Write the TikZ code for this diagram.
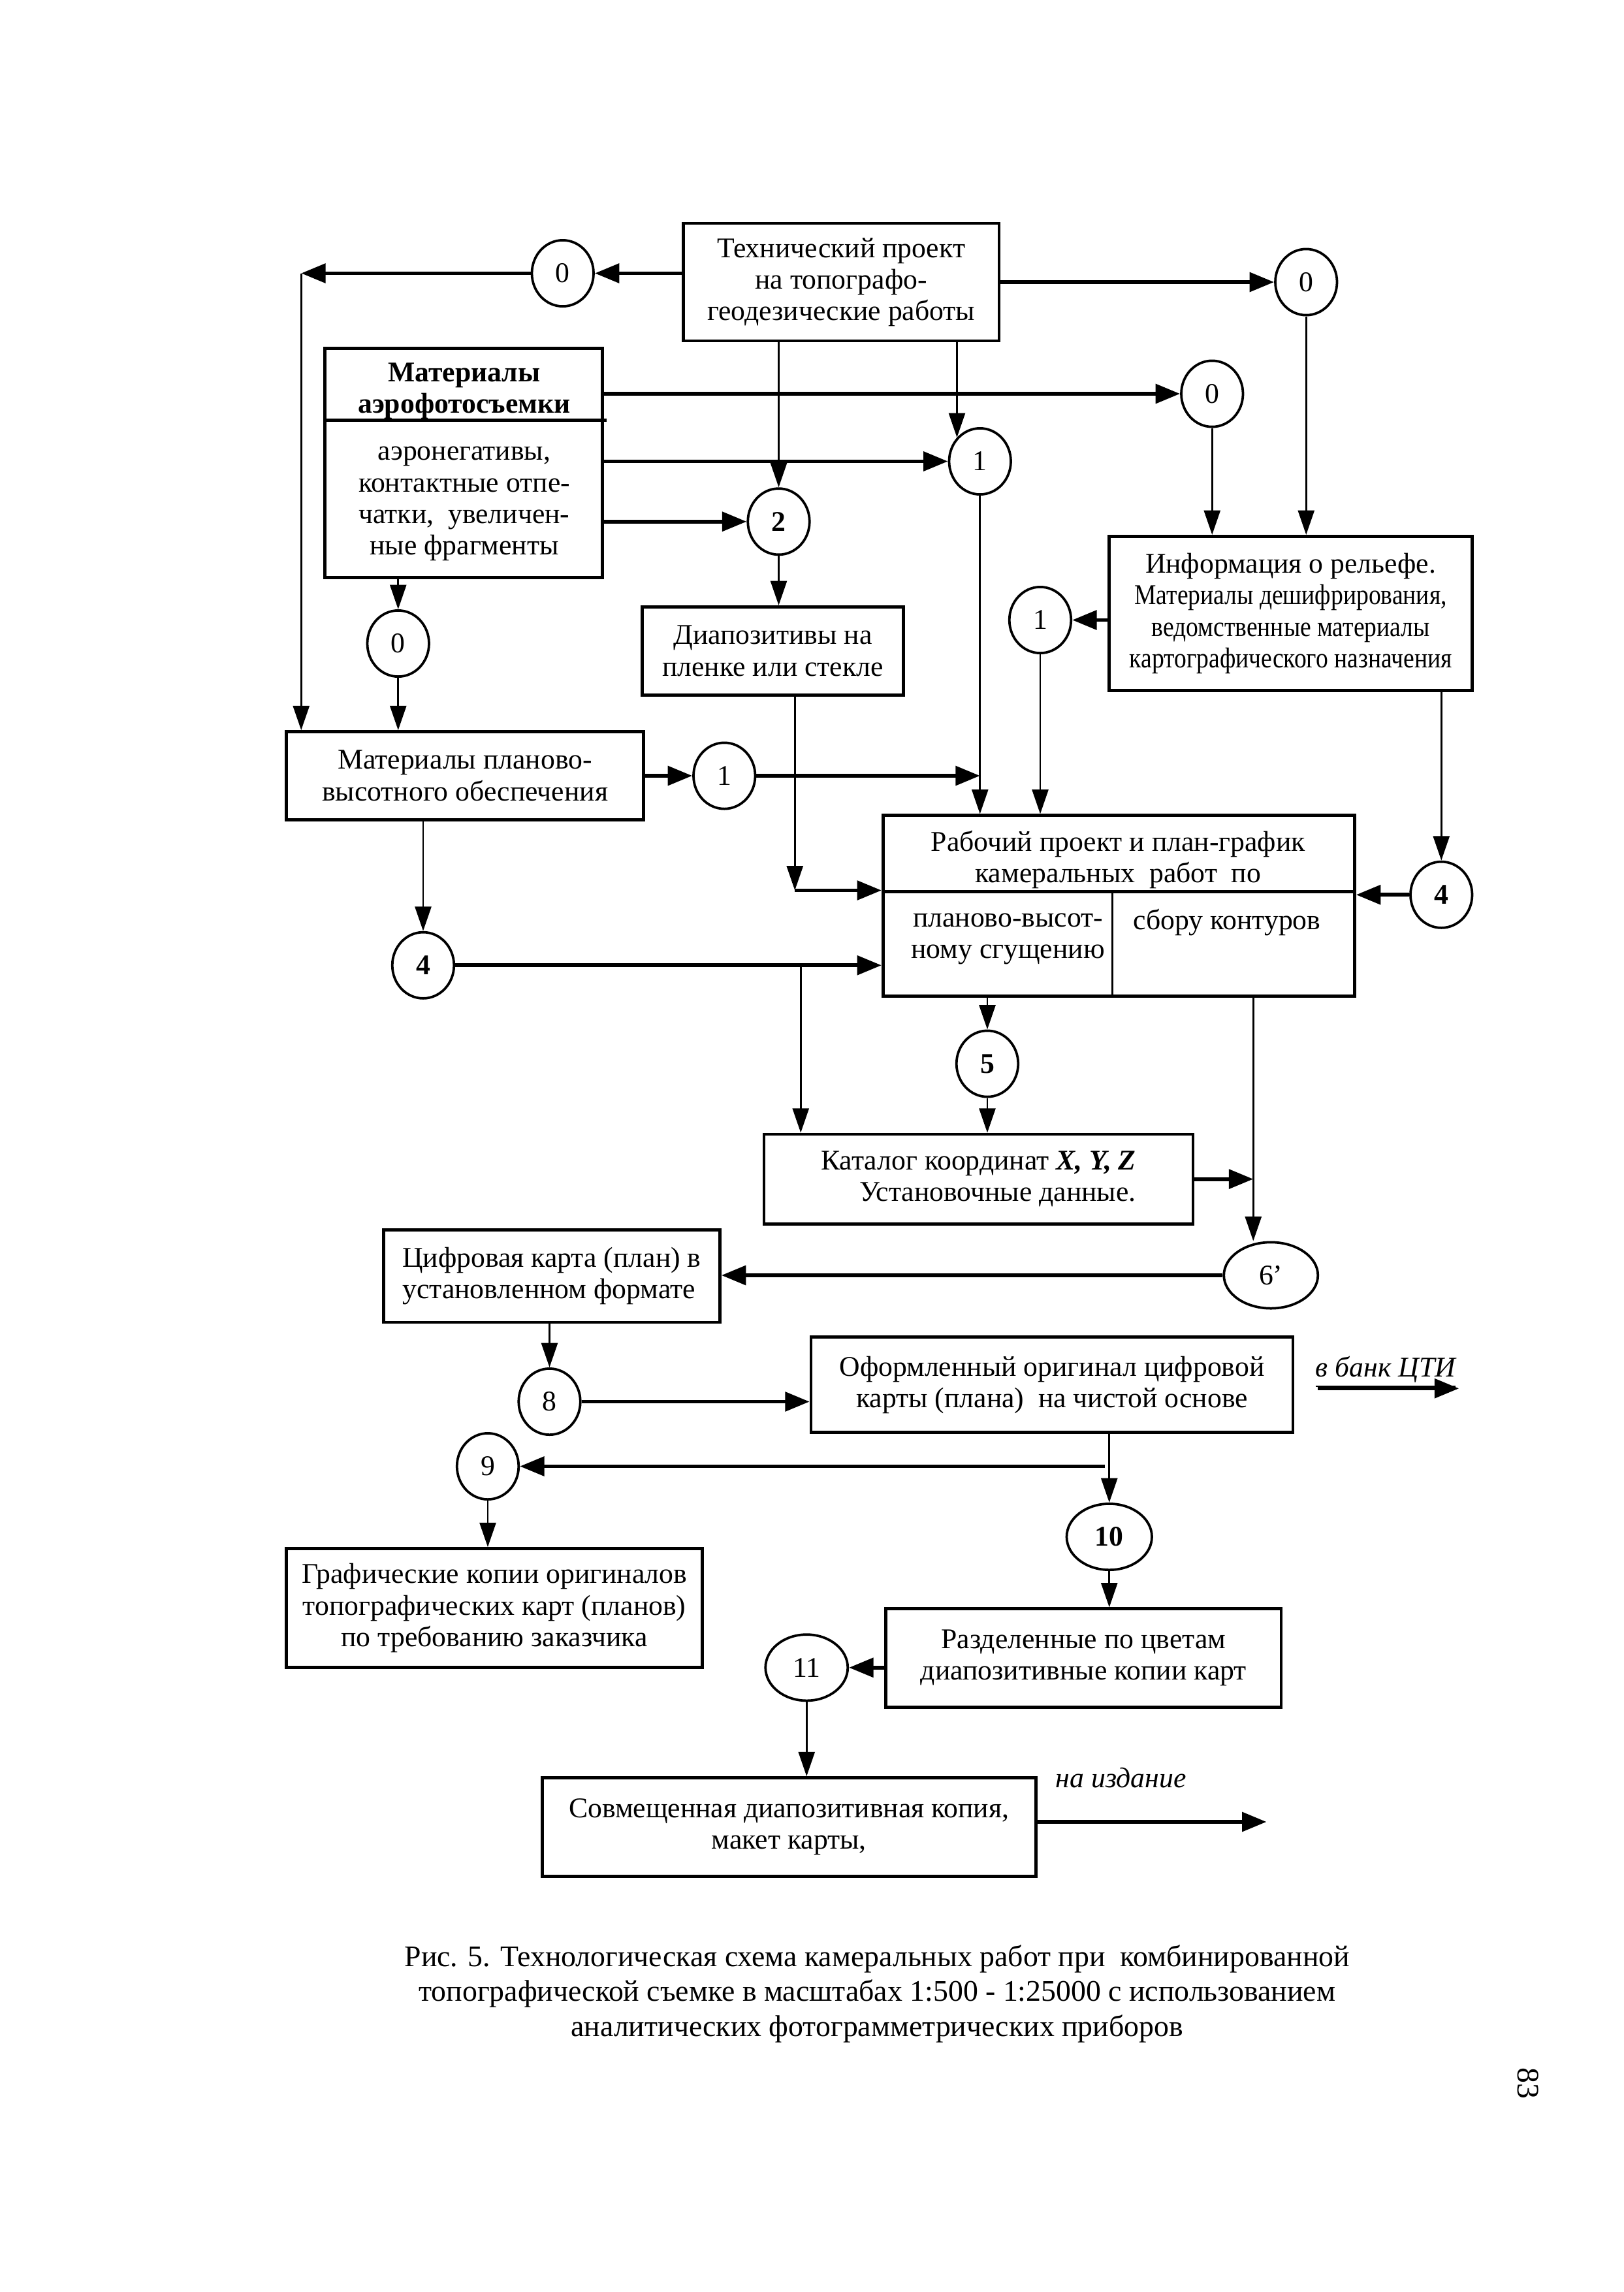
\documentclass[tikz,border=0pt]{standalone}
\usepackage{fontspec}
\setmainfont{Liberation Serif}
\newfontfamily\uzkij{Liberation Serif}[FakeStretch=0.86]
\usetikzlibrary{arrows.meta, shapes.geometric, calc}
\newcommand{\un}{0.0190045cm}
\newcommand{\osn}{\fontsize{10.5}{11.6}\selectfont}
\newcommand{\blok}[7][]
{
	\node[blok, #1, minimum width={(#5-#3)*\un}, minimum height={(#6-#4)*\un}] (#2) at ({(#3+#5)/2},{(#4+#6)/2}) {#7};
}
\tikzset{
	blok/.style={draw, line width=1.1pt, align=center, inner sep=0pt},
	krug/.style={draw, ellipse, line width=0.9pt, inner sep=0pt, minimum width={42*\un}, minimum height={45*\un}},
	zhir/.style={font=\osn\bfseries},
	harr/.style={line width=1.4pt, -{Triangle[length=9pt,width=7pt]}},
	varr/.style={line width=0.7pt, -{Triangle[length=9pt,width=6pt]}}
}

\begin{document}
\begin{tikzpicture}[x=\un, y=-\un, every node/.append style={font=\osn}]
	\fill[white] (0,0) rectangle (1105,1560);
	\useasboundingbox (0,0) rectangle (1105,1560);
	% bloki
	\blok{tech}{465}{152}{680}{232}{Технический проект\\на топографо-\\геодезические работы}
	\blok{aero}{221}{237}{410}{393}{}
	\node[zhir, align=center] (aeroT) at (316,266) {Материалы\\аэрофотосъемки};
	\draw[line width=1.1pt] (221,286) -- (413,286);
	\node[align=center] (aeroB) at (316,343) {аэронегативы,\\контактные отпе-\\чатки,\ \ увеличен-\\ные фрагменты};
	\blok{dia}{437}{413}{615}{473}{Диапозитивы на\\пленке или стекле}
	\blok{info}{755}{365}{1002}{470}{Информация о рельефе.\\{\uzkij Материалы дешифрирования,}\\{\uzkij ведомственные материалы}\\{\uzkij картографического назначения}}
	\blok{plan}{195}{498}{438}{558}{Материалы планово-\\высотного обеспечения}
	\blok{rab}{601}{555}{922}{678}{}
	\node[align=center] (rabT) at (761,585) {Рабочий проект и план-график\\камеральных\ \ работ\ \ по};
	\draw[line width=1.1pt] (601,607) -- (922,607);
	\draw[line width=0.8pt] (757,607) -- (757,678);
	\node[align=center] (rabL) at (686,639) {планово-высот-\\ному сгущению};
	\node (rabR) at (835,628) {сбору контуров};
	\blok[align=right]{kat}{520}{772}{812}{833}{Каталог координат \textbf{\textit{X, Y, Z}}\\Установочные данные.}
	\blok[align=left]{cif}{261}{837}{490}{900}{Цифровая карта (план) в\\установленном формате}
	\blok{ofo}{552}{910}{880}{975}{Оформленный оригинал цифровой\\карты (плана)\ \ на чистой основе}
	\blok{gra}{195}{1054}{478}{1135}{Графические копии оригиналов\\топографических карт (планов)\\по требованию заказчика}
	\blok{raz}{603}{1095}{872}{1162}{Разделенные по цветам\\диапозитивные копии карт}
	\blok{sov}{369}{1210}{705}{1277}{Совмещенная диапозитивная копия,\\макет карты,}
	% kruzhki
	\node[krug] (z0a) at (383,186) {0};
	\node[krug] (z0b) at (889,192) {0};
	\node[krug] (z0c) at (825,268) {0};
	\node[krug] (z1a) at (667,314) {1};
	\node[krug, zhir] (z2) at (530,355) {2};
	\node[krug] (z0d) at (271,438) {0};
	\node[krug] (z1b) at (708,422) {1};
	\node[krug] (z1c) at (493,528) {1};
	\node[krug, zhir] (z4a) at (288,657) {4};
	\node[krug, zhir] (z4b) at (981,609) {4};
	\node[krug, zhir] (z5) at (672,724) {5};
	\node[krug, minimum width={64*\un}] (z6) at (865,868) {6’};
	\node[krug] (z8) at (374,954) {8};
	\node[krug] (z9) at (332,998) {9};
	\node[krug, zhir, minimum width={58*\un}] (z10) at (755,1046) {10};
	\node[krug, minimum width={56*\un}] (z11) at (549,1135) {11};
	% tochki
	\coordinate (cL) at (205,186);
	\coordinate (cD) at (541,606);
	\coordinate (cB) at (545,657);
	\coordinate (cR) at (853,678);
	\coordinate (cO) at (752,998);
	\coordinate (bank0) at (897,945);
	\coordinate (bank) at (993,945);
	\coordinate (izd) at (862,1240);
	% strelki
	\draw[harr] (tech.west |- z0a) -- (z0a.east);
	\draw[harr] (z0a.west) -- (cL);
	\draw[varr] (cL) -- (cL |- plan.north);
	\draw[harr] (tech.east |- z0b) -- (z0b.west);
	\draw[varr] (z0b.south) -- (z0b.south |- info.north);
	\draw[harr] (aero.east |- z0c) -- (z0c.west);
	\draw[varr] (z0c.south) -- (z0c.south |- info.north);
	\draw[varr] (z2.north |- tech.south) -- (z2.north);
	\draw[varr] (z1a.134 |- tech.south) -- (z1a.134);
	\draw[harr] (aero.east |- z1a) -- (z1a.west);
	\draw[harr] (aero.east |- z2) -- (z2.west);
	\draw[varr] (z2.south) -- (z2.south |- dia.north);
	\draw[varr] (z0d.north |- aero.south) -- (z0d.north);
	\draw[varr] (z0d.south) -- (z0d.south |- plan.north);
	\draw[harr] (info.west |- z1b) -- (z1b.east);
	\draw[varr] (z1b.south) -- (z1b.south |- rab.north);
	\draw[varr] (z1a.south) -- (z1a.south |- rab.north);
	\draw[harr] (plan.east |- z1c) -- (z1c.west);
	\draw[harr] (z1c.east) -- (z1c.east -| z1a.south);
	\draw[varr] (cD |- dia.south) -- (cD);
	\draw[harr] (cD) -- (cD -| rab.west);
	\draw[varr] (z4a.north |- plan.south) -- (z4a.north);
	\draw[harr] (z4a.east) -- (z4a.east -| rab.west);
	\draw[varr] (z4b.north |- info.south) -- (z4b.north);
	\draw[harr] (z4b.west) -- (z4b.west -| rab.east);
	\draw[varr] (z5.north |- rab.south) -- (z5.north);
	\draw[varr] (z5.south) -- (z5.south |- kat.north);
	\draw[varr] (cB) -- (cB |- kat.north);
	\draw[varr] (cR) -- (cR |- z6.north);
	\draw[harr] (kat.east) -- (kat.east -| cR);
	\draw[harr] (z6.west) -- (z6.west -| cif.east);
	\draw[varr] (z8.north |- cif.south) -- (z8.north);
	\draw[harr] (z8.east) -- (z8.east -| ofo.west);
	\draw[varr] (z10.north |- ofo.south) -- (z10.north);
	\draw[harr] (cO) -- (cO -| z9.east);
	\draw[varr] (z9.south) -- (z9.south |- gra.north);
	\draw[varr] (z10.south) -- (z10.south |- raz.north);
	\draw[harr] (z11.east -| raz.west) -- (z11.east);
	\draw[varr] (z11.south) -- (z11.south |- sov.north);
	\draw[harr] (sov.east |- izd) -- (izd);
	\draw[harr] (bank0) -- (bank);
	% nadpisi
	\node[font=\osn\itshape] (bankT) at (943,934) {\underline{в банк ЦТИ}};
	\node[font=\osn\itshape] (izdT) at (763,1210) {на издание};
	\node[font=\fontsize{11}{12.9}\selectfont, align=center] (podpis) at (597,1357) {Рис. 5. Технологическая схема камеральных работ при\ \ комбинированной\\топографической съемке в масштабах 1:500 - 1:25000 с использованием\\аналитических фотограмметрических приборов};
	\node[font=\fontsize{11.5}{13}\selectfont, rotate=-90] (str) at (1040,1418) {83};
\end{tikzpicture}
\end{document}
